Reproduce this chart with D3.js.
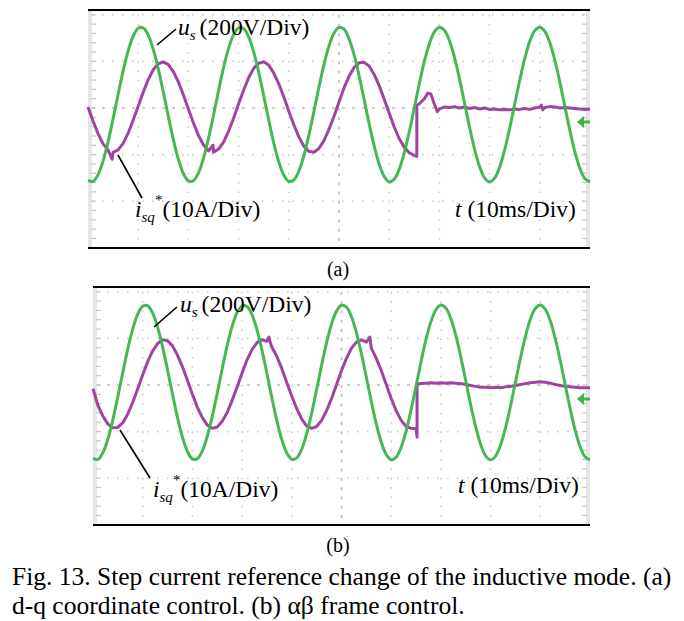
<!DOCTYPE html>
<html><head><meta charset="utf-8">
<script src="https://cdn.jsdelivr.net/npm/d3@7"></script>
<style>
body{margin:0;background:#fff}
svg{display:block}
text{font-family:"Liberation Serif","Times New Roman",serif;fill:#000}
</style>
</head><body>
<svg id="c" width="684" height="621"></svg>
<script>
// ---- data ----
// time base, ms (10 ms/Div, 10 divisions)
const timeMs = [0,1,2,3,4,5,6,7,8,9,10,11,12,13,14,15,16,17,18,19,20,21,22,23,24,25,26,27,28,29,30,31,32,33,34,35,36,37,38,39,40,41,42,43,44,45,46,47,48,49,50,51,52,53,54,55,56,57,58,59,60,61,62,63,64,65,66,67,68,69,70,71,72,73,74,75,76,77,78,79,80,81,82,83,84,85,86,87,88,89,90,91,92,93,94,95,96,97,98,99,100];
// u_s (V), panel (a)
const usA = [-311,-315,-286,-228,-145,-46,58,159,245,308,
  342,344,313,252,168,69,-36,-136,-220,-281,
  -313,-312,-279,-216,-131,-31,74,173,256,315,
  344,341,305,241,154,53,-52,-150,-231,-288,
  -315,-309,-271,-205,-117,-15,89,186,266,321,
  346,338,297,229,139,37,-67,-163,-241,-294,
  -317,-306,-263,-193,-102,0,104,200,276,327,
  347,334,289,217,125,22,-82,-176,-251,-300,
  -317,-301,-254,-180,-87,16,119,212,286,332,
  347,329,280,204,110,6,-97,-189,-260,-304,-317];
// u_s (V), panel (b)
const usB = [-315,-319,-290,-232,-149,-50,54,155,241,304,
  338,340,309,248,164,65,-40,-140,-224,-285,
  -317,-316,-283,-220,-135,-35,70,169,252,311,
  340,337,301,237,150,49,-56,-154,-235,-292,
  -319,-313,-275,-209,-121,-19,85,182,262,317,
  342,334,293,225,135,33,-71,-167,-245,-298,
  -321,-310,-267,-197,-106,-4,100,196,272,323,
  343,330,285,213,121,18,-86,-180,-255,-304,
  -321,-305,-258,-184,-91,12,115,208,282,328,
  343,325,276,200,106,2,-101,-193,-264,-308,-321];
// i_sq* (A), panel (a): times (ms) and values
const isqATime = [0,1,2,3,4,4.8,5,6,7,8,9,10,11,12,13,14,15,16,17,18,19,20,21,22,23,24,24.9,25,26,27,28,29,30,31,32,33,34,35,36,37,38,39,40,41,42,43,44,45,46,47,48,49,50,51,52,53,54,55,56,57,58,59,60,61,62,63,64,65,65.5,65.5,66,67,67.7,68.3,69,69.6,70,71,72,73,74,75,76,77,78,79,80,81,82,83,84,85,86,87,88,89,90,90.3,90.6,91,92,93,94,95,96,97,98,99,100];
const isqA = [0.2,-2.8,-5.5,-7.7,-9.0,-11.0,
  -9.5,-9.0,-7.6,-5.4,-2.6,0.4,3.4,6.1,8.2,9.5,9.9,9.3,7.8,5.6,2.8,-0.2,-3.2,-5.9,-7.9,-9.2,
  -8.0,
  -9.5,-8.8,-7.3,-5.0,-2.2,0.9,3.8,6.5,8.5,9.6,9.9,9.2,7.5,5.2,2.4,-0.7,-3.6,-6.2,-8.2,-9.3,
  -9.5,-8.7,-7.0,-4.6,-1.8,1.3,4.3,6.8,8.7,9.7,9.8,9.0,7.2,4.8,1.9,-1.1,-4.1,-6.6,-8.4,-9.6,-10.2,
  -10.4,0.6,0.9,2.0,3.2,3.0,0.8,-0.8,
  -0.2,0.2,0.1,0.3,0.0,0.2,-0.1,0.1,-0.2,0.0,-0.3,-0.2,-0.4,-0.3,-0.4,-0.2,-0.3,-0.1,-0.3,0.0,0.2,
  0.6,-0.4,
  0.1,0.3,0.2,0.0,0.1,0.0,-0.1,-0.2,-0.3,-0.2];
// i_sq* (A), panel (b)
const isqBTime = [0,1,2,3,4,5,6,7,8,9,10,11,12,13,14,15,16,17,18,19,20,21,22,23,24,25,26,27,28,29,30,31,32,33,34,35,35.4,35.7,36,37,38,39,40,41,42,43,44,45,46,47,48,49,50,51,52,53,54,55,55.7,56,57,58,59,60,61,62,63,64,65,65.2,65.2,66,67,68,69,70,71,72,73,74,75,76,77,78,79,80,81,82,83,84,85,86,87,88,89,90,91,92,93,94,95,96,97,98,99,100];
const isqB = [-0.8,-4.4,-6.7,-8.4,-9.2,-9.1,-8.1,-6.2,-3.7,-0.8,
  2.2,5.0,7.3,8.9,9.7,9.5,8.4,6.4,3.9,1.0,
  -2.0,-4.8,-7.0,-8.6,-9.3,-9.0,-7.8,-5.9,-3.3,-0.4,
  2.6,5.4,7.6,9.1,9.7,9.4,
  10.3,9.0,
  8.1,6.1,3.5,0.5,-2.4,-5.1,-7.3,-8.8,-9.3,-8.9,
  -7.6,-5.5,-2.9,0.1,3.1,5.7,7.9,9.2,9.7,9.2,
  10.3,
  7.9,5.7,3.1,0.1,-2.9,-5.5,-7.6,-8.9,-9.3,-9.4,
  -11.2,0.2,
  0.3,0.4,0.5,0.4,0.5,0.4,0.5,0.4,0.3,0.1,
  -0.1,-0.3,-0.5,-0.5,-0.6,-0.5,-0.6,-0.4,-0.3,-0.1,
  0.1,0.3,0.5,0.6,0.7,0.6,0.4,0.1,-0.1,-0.3,
  -0.4,-0.5,-0.6,-0.6,-0.6];
// grid
const gridTimes = [0,10,20,30,40,50,60,70,80,90,100];
const gridVolts = [400,200,0,-200,-400,-600];
const groundMarkVolts = -60;
const captionLines = ["Fig. 13. Step current reference change of the inductive mode. (a)",
                      "d-q coordinate control. (b) \u03b1\u03b2 frame control."];
const panelTags = ["(a)","(b)"];

// ---- drawing ----
const svg = d3.select("#c");
const GREEN = "#3cb44a", PURPLE = "#9a3a9c", DIV = 46.6;

const panels = [
  {x0:88, x1:590, top:10, bottom:248, center:108, us:usA, it:isqATime, iv:isqA, tag:panelTags[0], tagY:276,
   usLbl:[178,35], usLead:[157,45,176,29], iLbl:[135,217], iLead:[118,155,142,198], tLbl:[455,217]},
  {x0:93, x1:590, top:287, bottom:525, center:385, us:usB, it:isqBTime, iv:isqB, tag:panelTags[1], tagY:552,
   usLbl:[180,312], usLead:[154,327,177,307], iLbl:[153,497], iLead:[120,430,150,478], tLbl:[458,493]}
];

panels.forEach(p => {
  const g = svg.append("g");
  const x = d3.scaleLinear().domain([0,100]).range([p.x0, p.x1]);
  const yU = d3.scaleLinear().domain([0,200]).range([p.center, p.center - DIV]);
  const yI = d3.scaleLinear().domain([0,10]).range([p.center, p.center - DIV]);
  const rowTop = yU(400), rowBot = yU(-600);

  // side borders (light gray)
  g.append("rect").attr("x", p.x0).attr("y", p.top).attr("width", 4).attr("height", p.bottom - p.top).attr("fill", "#e6e6e6");
  g.append("rect").attr("x", p.x1 - 4).attr("y", p.top).attr("width", 4).attr("height", p.bottom - p.top).attr("fill", "#e6e6e6");

  // dotted grid
  gridTimes.slice(1, -1).forEach(t => {
    const isC = t === 50;
    g.append("line").attr("x1", x(t)).attr("x2", x(t)).attr("y1", rowTop).attr("y2", rowBot)
      .attr("stroke", isC ? "#bdbdbd" : "#cccccc").attr("stroke-width", 1.6)
      .attr("stroke-dasharray", isC ? "3,6.3" : "1.6,7.7");
  });
  gridVolts.slice(0, -1).forEach(v => {
    const isC = v === 0;
    g.append("line").attr("x1", p.x0 + 4).attr("x2", p.x1 - 4).attr("y1", yU(v)).attr("y2", yU(v))
      .attr("stroke", isC ? "#bdbdbd" : "#cccccc").attr("stroke-width", 1.6)
      .attr("stroke-dasharray", isC ? "3,7" : "1.6,8.4");
  });
  // edge ticks
  const tickVals = d3.range(-600, 401, 40);
  tickVals.forEach(v => {
    g.append("line").attr("x1", p.x0 + 3).attr("x2", p.x0 + 8).attr("y1", yU(v)).attr("y2", yU(v)).attr("stroke", "#c8c8c8").attr("stroke-width", 1.2);
    g.append("line").attr("x1", p.x1 - 8).attr("x2", p.x1 - 3).attr("y1", yU(v)).attr("y2", yU(v)).attr("stroke", "#c8c8c8").attr("stroke-width", 1.2);
  });

  // frame top and bottom
  g.append("line").attr("x1", p.x0).attr("x2", p.x1).attr("y1", p.top).attr("y2", p.top).attr("stroke", "#000").attr("stroke-width", 2.2);
  g.append("line").attr("x1", p.x0).attr("x2", p.x1).attr("y1", p.bottom).attr("y2", p.bottom).attr("stroke", "#000").attr("stroke-width", 2.2);

  // traces
  const iPts = p.it.map((t, i) => [x(t), yI(p.iv[i])]);
  g.append("path").attr("d", d3.line()(iPts)).attr("fill", "none").attr("stroke", PURPLE)
    .attr("stroke-width", 3).attr("stroke-linejoin", "round").attr("opacity", 0.95);
  const uPts = timeMs.map((t, i) => [x(t), yU(p.us[i])]);
  g.append("path").attr("d", d3.line().curve(d3.curveCatmullRom)(uPts)).attr("fill", "none").attr("stroke", GREEN)
    .attr("stroke-width", 3).attr("stroke-linejoin", "round").attr("opacity", 0.95);

  // ground marker arrow at right
  const gy = yU(groundMarkVolts);
  g.append("path").attr("d", `M${p.x1 - 13},${gy} L${p.x1 - 6},${gy - 6} L${p.x1 - 6},${gy + 6} Z`).attr("fill", GREEN);
  g.append("line").attr("x1", p.x1 - 7).attr("x2", p.x1).attr("y1", gy).attr("y2", gy).attr("stroke", GREEN).attr("stroke-width", 3);

  // leader lines
  [p.usLead, p.iLead].forEach(l => {
    g.append("line").attr("x1", l[0]).attr("y1", l[1]).attr("x2", l[2]).attr("y2", l[3]).attr("stroke", "#000").attr("stroke-width", 1.6);
  });

  // labels
  const tu = g.append("text").attr("x", p.usLbl[0]).attr("y", p.usLbl[1]).attr("font-size", 23.5);
  tu.append("tspan").attr("font-style", "italic").text("u");
  tu.append("tspan").attr("font-style", "italic").attr("font-size", 15).attr("dy", 5).text("s");
  tu.append("tspan").attr("dy", -5).attr("dx", 4).text("(200V/Div)");

  const ti = g.append("text").attr("x", p.iLbl[0]).attr("y", p.iLbl[1]).attr("font-size", 23.5);
  ti.append("tspan").attr("font-style", "italic").text("i");
  ti.append("tspan").attr("font-style", "italic").attr("font-size", 15).attr("dy", 5).text("sq");
  ti.append("tspan").attr("font-size", 15).attr("dy", -17).text("*");
  ti.append("tspan").attr("dy", 12).text("(10A/Div)");

  const tt = g.append("text").attr("x", p.tLbl[0]).attr("y", p.tLbl[1]).attr("font-size", 23.5);
  tt.append("tspan").attr("font-style", "italic").text("t");
  tt.append("tspan").text(" (10ms/Div)");

  svg.append("text").attr("x", 338).attr("y", p.tagY).attr("text-anchor", "middle").attr("font-size", 20).text(p.tag);
});

captionLines.forEach((s, i) => {
  svg.append("text").attr("x", 12).attr("y", 585 + i * 29).attr("font-size", 25.5).text(s);
});
</script>
</body></html>
